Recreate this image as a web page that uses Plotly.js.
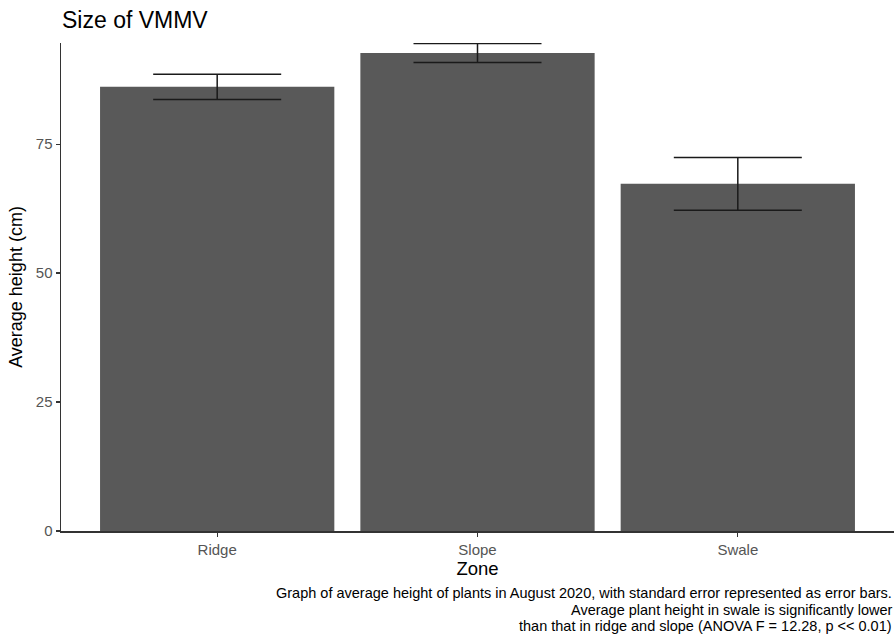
<!DOCTYPE html>
<html>
<head>
<meta charset="utf-8">
<script src="https://cdn.plot.ly/plotly-3.0.1.min.js"></script>
<style>html,body{margin:0;padding:0;background:#fff;}#chart{width:895px;height:640px;}</style>
</head>
<body>
<div id="chart"></div>
<script>
const zones = ["Ridge", "Slope", "Swale"];
const meanHeight = [86.1, 92.65, 67.3];
const stdError = [2.45, 1.85, 5.1];
const yTicks = [0, 25, 50, 75];
const captionLines = [
  "Graph of average height of plants in August 2020, with standard error represented as error bars.",
  "Average plant height in swale is significantly lower",
  "than that in ridge and slope (ANOVA F = 12.28, p << 0.01)"
];

const font = "Liberation Sans, Arial, Helvetica, sans-serif";

const trace = {
  type: "bar",
  x: zones,
  y: meanHeight,
  marker: {color: "#595959", line: {width: 0}},
  error_y: {type: "data", array: stdError, visible: true, color: "#1a1a1a", thickness: 1.5, width: 64},
  hoverinfo: "x+y"
};

const annotations = captionLines.map((t, i) => ({
  text: t, xref: "paper", yref: "paper", x: 1, xanchor: "right",
  y: 0, yshift: -62 - i * 16.5, yanchor: "middle", showarrow: false,
  font: {family: font, size: 14.5, color: "#000"}
}));

const layout = {
  width: 895, height: 640,
  margin: {l: 61, r: 1, t: 43, b: 109},
  paper_bgcolor: "#fff", plot_bgcolor: "#fff",
  bargap: 0.1,
  showlegend: false,
  title: {text: "Size of VMMV", x: 62/895, xanchor: "left", y: 1 - 20/640, yanchor: "middle",
          xref: "container", yref: "container",
          font: {family: font, size: 23, color: "#000"}},
  xaxis: {
    type: "category", range: [-0.6, 2.6],
    showline: true, linecolor: "#333", linewidth: 1.5,
    ticks: "outside", ticklen: 4, tickcolor: "#333", tickwidth: 1.2,
    showgrid: false, zeroline: false,
    tickfont: {family: font, size: 15, color: "#555"},
    title: {text: "Zone", font: {family: font, size: 18.5, color: "#000"}, standoff: 5}
  },
  yaxis: {
    range: [0, 94.6],
    tickvals: yTicks, ticktext: yTicks.map(String),
    showline: true, linecolor: "#333", linewidth: 1.5,
    ticks: "outside", ticklen: 4, tickcolor: "#333", tickwidth: 1.2,
    showgrid: false, zeroline: false,
    tickfont: {family: font, size: 15, color: "#555"},
    title: {text: "Average height (cm)", font: {family: font, size: 18, color: "#000"}, standoff: 8}
  },
  annotations: annotations
};

Plotly.newPlot("chart", [trace], layout, {displayModeBar: false, staticPlot: true});
</script>
</body>
</html>
